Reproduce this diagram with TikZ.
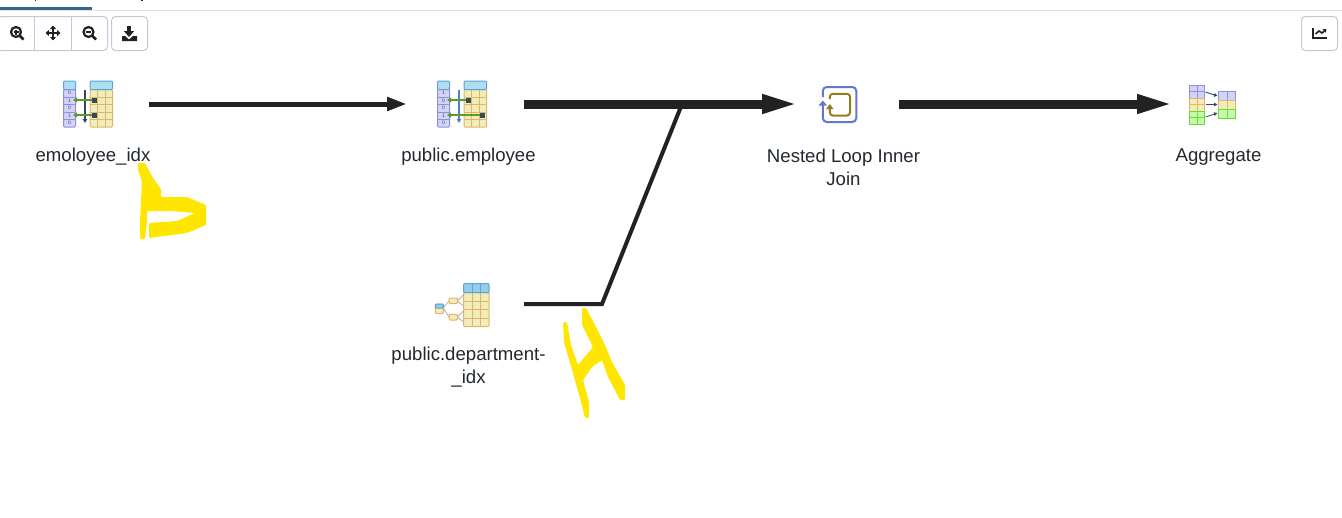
\documentclass[tikz,border=0pt]{standalone}
\usepackage{fontspec}
\setmainfont{Liberation Sans}
\usetikzlibrary{arrows.meta}
\definecolor{inkdark}{HTML}{222222}
\definecolor{labeltext}{HTML}{222830}
\definecolor{btnborder}{HTML}{C4C9D6}
\definecolor{tabline}{HTML}{DDE0E8}
\definecolor{tabblue}{HTML}{326690}
\definecolor{marker}{HTML}{FFE600}
\definecolor{hdrfill}{HTML}{ACDFF3}
\definecolor{hdrline}{HTML}{5BA3D0}
\definecolor{tanfill}{HTML}{F2ECB8}
\definecolor{tanline}{HTML}{DDB76C}
\definecolor{bluefill}{HTML}{D3D3F5}
\definecolor{blueline}{HTML}{8F8FE0}
\definecolor{greenfill}{HTML}{C3FBA8}
\definecolor{greenline}{HTML}{6CD936}
\definecolor{scangreen}{HTML}{5C9A2C}
\definecolor{slate}{HTML}{34495E}
\definecolor{loopblue}{HTML}{6A72D8}
\definecolor{loopolive}{HTML}{8F7F1E}
\tikzset{
	lbl/.style={anchor=center,align=center,text=labeltext,font=\fontsize{18.6}{23}\selectfont},
	slot/.style={inner sep=0pt,outer sep=0pt,minimum height=1pt},
	flowthin/.style={draw=inkdark,line width=5pt,-{Triangle[length=20pt,width=13pt]}},
	flowthick/.style={draw=inkdark,line width=9pt,-{Triangle[length=38pt,width=17pt]}},
	feeder/.style={draw=inkdark,line width=4pt},
	btn/.style={draw=btnborder,line width=1pt,rounded corners=4pt},
	tool/.style={draw=inkdark,line width=2.2pt},
	cellbox/.style={line width=1pt,rounded corners=1pt},
	scribble/.style={fill=marker,draw=none,rounded corners=1.2pt}
}
% one index scan icon: x, y, colour of the arrow, x of second square, bits
\newcommand{\scanicon}[5]{
	\begin{scope}[shift={(#1,#2)}]
		\fill[bluefill,draw=blueline,cellbox] (-24.5,-14.5) rectangle (-12.5,23);
		\fill[hdrfill,draw=hdrline,cellbox] (-24.5,-23) rectangle (-12.5,-14.5);
		\foreach \b [count=\r from 0] in {#5} {
			\draw[blueline,line width=.7pt] (-24.5,-14.5+7.5*\r) -- (-12.5,-14.5+7.5*\r);
			\node[inner sep=0pt,font=\fontsize{5}{5}\selectfont,text=slate] at (-18.5,-10.8+7.5*\r) (bit\r) {\b};
		}
		\fill[tanfill,draw=tanline,cellbox] (2,-14.5) rectangle (24.5,23);
		\foreach \c in {9.5,17} \draw[tanline,line width=.8pt] (\c,-14.5) -- (\c,23);
		\foreach \r in {-7,.5,8,15.5} \draw[tanline,line width=.8pt] (2,\r) -- (24.5,\r);
		\fill[hdrfill,draw=hdrline,cellbox] (2,-23) rectangle (24.5,-14.5);
		\draw[#3,line width=1.5pt,-{Triangle[length=4pt,width=4.5pt]}] (-3,-14) -- (-3,19);
		\draw[scangreen,line width=1.5pt,-{Triangle[length=4pt,width=5pt]}] (6,-4) -- (-15,-4);
		\draw[scangreen,line width=1.5pt,-{Triangle[length=4pt,width=5pt]}] (#4,11) -- (-15,11);
		\fill[slate] (3.5,-6.5) rectangle (8.5,-1.5);
		\fill[slate] (#4-2.5,8.5) rectangle (#4+2.5,13.5);
	\end{scope}
}
% magnifier of the toolbar: x, y, with plus or not
\newcommand{\lensicon}[3]{
	\draw[tool] (#1,#2) circle (5pt);
	\draw[tool,line width=2.6pt] (#1+3.8,#2+3.8) -- (#1+7.5,#2+7.5);
	\draw[line width=1.4pt,draw=inkdark] (#1-2.5,#2) -- (#1+2.5,#2);
	#3
}
\begin{document}
\begin{tikzpicture}[x=1pt,y=-1pt]
	\useasboundingbox (0,0) rectangle (1342,517);

	% tab strip and toolbar
	\draw[tabline,line width=1pt] (0,10.5) -- (1342,10.5);
	\fill[tabblue] (0,7) rectangle (92,10);
	\fill[inkdark] (34.5,0) rectangle (36,1.2);
	\fill[inkdark] (141,0) rectangle (143,1.2);
	\begin{scope}
		\clip (0,12) rectangle (1342,55);
		\draw[btn] (-3,16.5) rectangle (107.5,50.5);
	\end{scope}
	\draw[btnborder] (34.5,16.5) -- (34.5,50.5);
	\draw[btnborder] (71.5,16.5) -- (71.5,50.5);
	\draw[btn] (111.5,16.5) rectangle (147.5,50.5);
	\draw[btn] (1301.5,16.5) rectangle (1337.5,50.5);
	\lensicon{16}{32}{\draw[line width=1.4pt,draw=inkdark] (16,29.5) -- (16,34.5);}
	\lensicon{88.5}{32}{}
	\draw[inkdark,line width=1.6pt,{Triangle[length=3.5pt,width=6pt]}-{Triangle[length=3.5pt,width=6pt]}] (45.5,33) -- (60.5,33);
	\draw[inkdark,line width=1.6pt,{Triangle[length=3.5pt,width=6pt]}-{Triangle[length=3.5pt,width=6pt]}] (53,25.5) -- (53,40.5);
	\draw[inkdark,line width=3.4pt,-{Triangle[length=6pt,width=10pt]}] (129,26) -- (129,37);
	\fill[inkdark] (122,36) -- (125,36) -- (129,39.5) -- (133,36) -- (137,36) -- (137,41) -- (122,41) -- cycle;
	\draw[inkdark,line width=1.6pt] (1312.8,28) -- (1312.8,38) -- (1327,38);
	\draw[inkdark,line width=1.6pt,-{Triangle[length=3pt,width=4.5pt]}] (1315.5,34) -- (1319,31) -- (1322,33) -- (1326.5,29);

	% icons
	\scanicon{88}{104}{slate}{6}{0,1,0,1,0}
	\scanicon{462}{104}{hdrline!80!blue}{20}{1,0,0,1,0}

	% department index icon
	\fill[tanfill,draw=tanline,cellbox] (463.5,292.7) rectangle (489,326.5);
	\foreach \c in {472,480.5} \draw[tanline,line width=.9pt] (\c,292.7) -- (\c,326.5);
	\foreach \r in {301,309.5,318} \draw[tanline,line width=.9pt] (463.5,\r) -- (489,\r);
	\fill[hdrfill!70!hdrline,draw=hdrline,cellbox] (463.5,283.5) rectangle (489,292.7);
	\foreach \c in {472,480.5} \draw[hdrline] (\c,283.5) -- (\c,292.7);
	\draw[gray!70,line width=.7pt] (449,301) -- (443.3,308) -- (449,317);
	\draw[gray!70,line width=.7pt] (463.5,295) -- (457.3,301) -- (463.5,306);
	\draw[gray!70,line width=.7pt] (463.5,311) -- (457.3,317) -- (463.5,322);
	\fill[tanfill,draw=tanline,cellbox] (449,298) rectangle (457.3,303.7);
	\fill[tanfill,draw=tanline,cellbox] (449,314.3) rectangle (457.3,320);
	\fill[tanfill,draw=tanline,cellbox] (435.3,304) rectangle (443.3,313.5);
	\fill[hdrfill!70!hdrline,draw=hdrline,cellbox] (435.3,304) rectangle (443.3,308);

	% loop icon
	\draw[loopblue,line width=2pt,rounded corners=4pt] (822.8,105) -- (822.8,122) -- (856.3,122) -- (856.3,87) -- (822.8,87) -- (822.8,97);
	\fill[loopblue] (822.8,100.5) -- (827,105.5) -- (818.6,105.5) -- cycle;
	\draw[loopolive,line width=2pt,rounded corners=3pt] (829.8,108) -- (829.8,115.5) -- (850,115.5) -- (850,93.8) -- (829.8,93.8) -- (829.8,99);
	\fill[loopolive] (829.8,104) -- (833.5,109) -- (826.1,109) -- cycle;

	% aggregate icon
	\foreach \top/\fillc/\linec in {85/bluefill/blueline,98/tanfill/tanline,111/greenfill/greenline} {
		\fill[\fillc,draw=\linec,line width=.9pt] (1189.5,\top) rectangle (1204.5,\top+13);
		\draw[\linec] (1189.5,\top+6.5) -- (1204.5,\top+6.5);
		\draw[\linec] (1197,\top) -- (1197,\top+13);
	}
	\foreach \top/\fillc/\linec in {91/bluefill/blueline,100/tanfill/tanline,109/greenfill/greenline} {
		\fill[\fillc,draw=\linec,line width=.9pt] (1218.5,\top) rectangle (1235,\top+9);
		\draw[\linec] (1226.8,\top) -- (1226.8,\top+9);
	}
	\foreach \ya/\yb in {92/96,104.5/104.5,117/113}
		\draw[slate,line width=.8pt,-{Triangle[length=3.5pt,width=3.5pt]}] (1205.5,\ya) -- (1217.5,\yb);

	% operators
	\node[slot,minimum width=122pt] at (88,104) (idxscan) {};
	\node[slot,minimum width=117pt] at (465.5,104) (empscan) {};
	\node[slot,minimum width=117pt] at (465.5,304) (deptscan) {};
	\node[slot,minimum width=99pt] at (849.5,104) (loopjoin) {};
	\node[slot,minimum width=74pt] at (1212,104) (aggr) {};
	\coordinate (bend) at (602,304);
	\coordinate (merge) at (682,104);

	\node[lbl] at (93,157) (idxlabel) {emoloyee\_idx};
	\node[lbl] at (468.5,157) (emplabel) {public.employee};
	\node[lbl] at (468.5,367) (deptlabel) {public.department-\\\_idx};
	\node[lbl] at (843.5,167) (looplabel) {Nested Loop Inner\\Join};
	\node[lbl] at (1218.5,157) (aggrlabel) {Aggregate};

	\draw[feeder] (deptscan.east) -- (bend) -- (merge);
	\draw[flowthin] (idxscan.east) -- (empscan.west);
	\draw[flowthick] (empscan.east) -- (loopjoin.west);
	\draw[flowthick] (loopjoin.east) -- (aggr.west);

	% marker scribbles
	\path[scribble] (138,163) -- (145,163) -- (153,178) -- (161,189) -- (161,197) -- (187,197) -- (206,205) -- (206,225) -- (187,233) -- (149,238) -- (149,223) -- (177,221) -- (195,213) -- (170,211) -- (147,211) -- (147,222) -- (145,239) -- (140,239) -- (140,221) -- (142,182) -- (138,170) -- cycle;
	\path[scribble] (563,322) -- (567,322) -- (571,345) -- (578,365) -- (593,347) -- (582,325) -- (582,308) -- (586,308) -- (595,325) -- (605,345) -- (612,362) -- (625,385) -- (625,400) -- (620,400) -- (608,377) -- (602,360) -- (592,367) -- (583,380) -- (589,402) -- (589,418) -- (585,418) -- (580,398) -- (564,342) -- cycle;
\end{tikzpicture}
\end{document}
